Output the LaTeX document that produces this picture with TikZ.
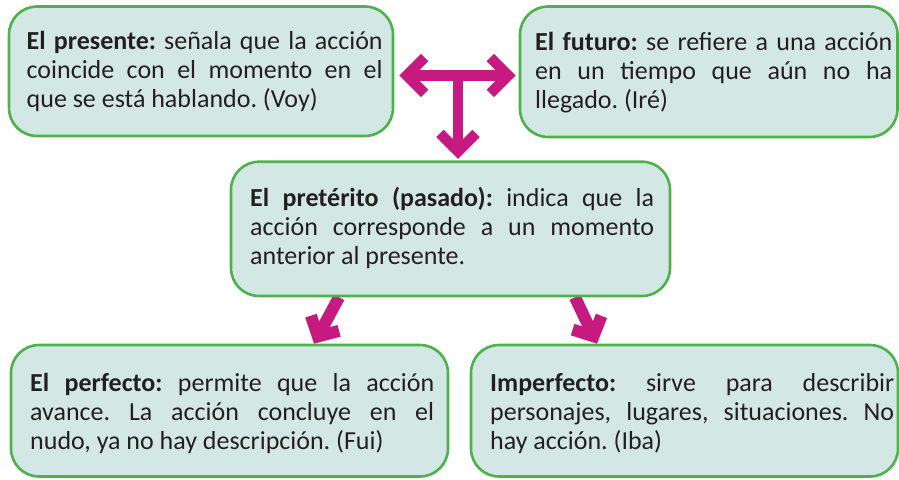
\documentclass[tikz,border=0pt]{standalone}
\usepackage{fontspec}
\setmainfont{Carlito}
\usetikzlibrary{arrows.meta,calc}
\pgfdeclarelayer{bg}
\pgfsetlayers{bg,main}
\definecolor{boxfill}{HTML}{D3E8E5}
\definecolor{boxline}{HTML}{4DB24A}
\definecolor{arrcol}{HTML}{C71A80}
\definecolor{txtcol}{HTML}{231F20}
\hyphenpenalty=10000
\exhyphenpenalty=10000
\frenchspacing
\tikzset{
  barbT/.tip={Straight Barb[sharp, length=18pt, width=36pt]},
  barbB/.tip={Straight Barb[sharp, length=15pt, width=32pt]}
}
\begin{document}
\begin{tikzpicture}[x=1pt,y=-1pt,
  tbox/.style={rectangle, draw=boxline, fill=boxfill, line width=2.6pt, rounded corners=28pt, inner sep=0pt},
  txt/.style={anchor=base west, inner sep=0pt, align=justify, text=txtcol, font=\frenchspacing\fontsize{26pt}{29pt}\selectfont},
  arrT/.style={draw=arrcol, line width=10.5pt},
  arrB/.style={draw=arrcol, line width=12pt}
]
\useasboundingbox (0,0) rectangle (899,479);

% boxes
\node[tbox, minimum width=384pt, minimum height=129.5pt] (pres) at (201,71.25) {};
\node[tbox, minimum width=377.5pt, minimum height=130.5pt] (fut) at (708.75,71.75) {};
\node[tbox, minimum width=439pt, minimum height=134.3pt] (pret) at (450.5,228.85) {};
\node[tbox, minimum width=437pt, minimum height=131.5pt] (perf) at (229.5,410.75) {};
\node[tbox, minimum width=427pt, minimum height=131.5pt] (imp) at (684.5,410.75) {};

% texts
\node[txt, text width=356pt] (tpres) at (26.5,49.5) {\textbf{El presente:} señala que la acción\linebreak coincide con el momento en el\linebreak que se está hablando. (Voy)};
\node[txt, text width=357pt] (tfut) at (535,50) {\textbf{El futuro:} se refiere a una acción\linebreak en un tiempo que aún no ha\linebreak llegado. (Iré)};
\node[txt, text width=404pt] (tpret) at (250,206.7) {\textbf{El pretérito (pasado):} indica que la\linebreak acción corresponde a un momento\linebreak anterior al presente.};
\node[txt, text width=404pt] (tperf) at (30,391) {\textbf{El perfecto:} permite que la acción\linebreak avance. La acción concluye en el\linebreak nudo, ya no hay descripción. (Fui)};
\node[txt, text width=404pt] (timp) at (490,391) {\textbf{Imperfecto:} sirve para describir\linebreak personajes, lugares, situaciones. No\linebreak hay acción. (Iba)};

% arrows
\coordinate (J) at (458,75.5);
\begin{pgfonlayer}{bg}
\draw[arrT, {barbT}-{barbT}, shorten <=5pt, shorten >=3pt] (pres.east |- J) -- (fut.west |- J);
\draw[arrT, -{barbT}, shorten >=1.5pt] (J) -- (J |- pret.north);
\draw[arrB, -{barbB}] ([xshift=-111.5pt]pret.south) -- ([xshift=84.5pt]perf.north);
\draw[arrB, -{barbB}] ([xshift=124.5pt]pret.south) -- ([xshift=-87.5pt]imp.north);
\end{pgfonlayer}
\end{tikzpicture}
\end{document}
